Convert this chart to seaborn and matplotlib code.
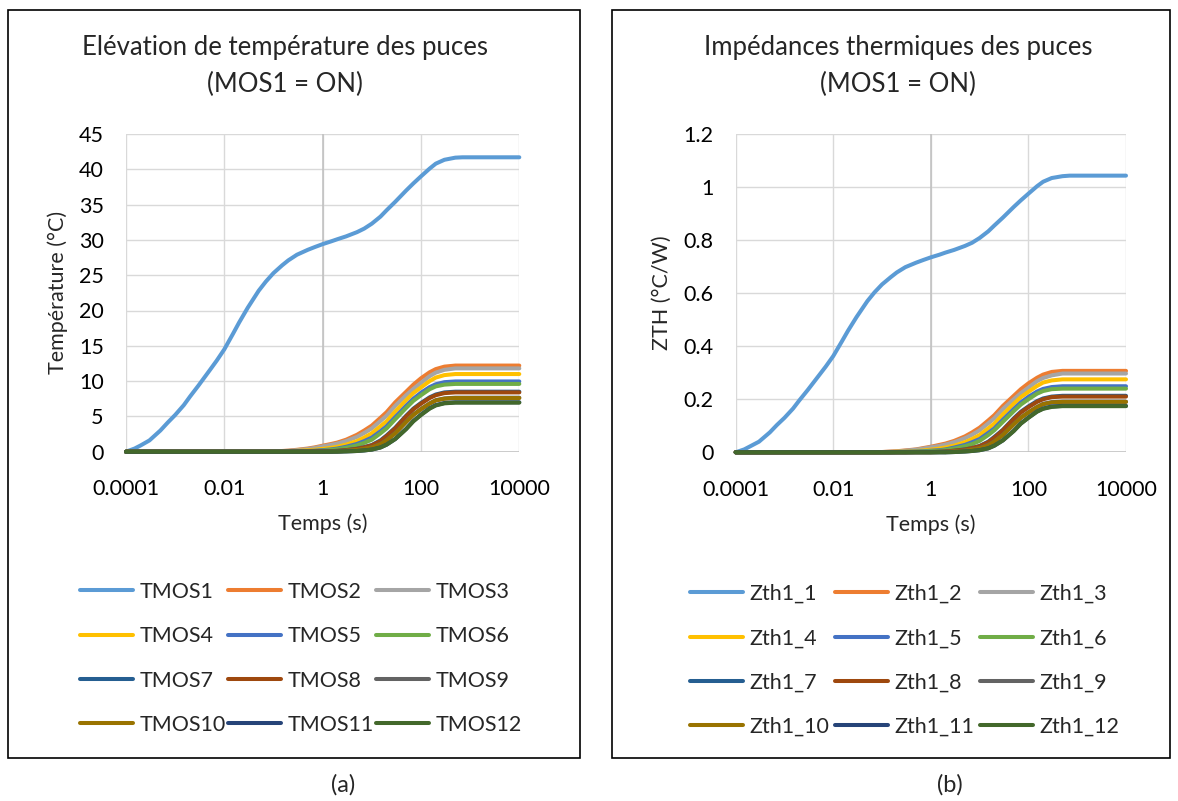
import matplotlib
matplotlib.use("Agg")
import matplotlib.pyplot as plt
import pandas as pd
import seaborn as sns
from matplotlib.patches import Rectangle
from matplotlib.ticker import FixedLocator, FixedFormatter, NullLocator

# ---------------- data ----------------
# time axis for the first (fast-rising) chip
time_main = [1e-4, 1.5e-4, 2e-4, 3e-4, 5e-4, 7e-4, 1e-3, 1.5e-3, 2e-3, 3e-3, 5e-3, 7e-3,
             1e-2, 1.5e-2, 2e-2, 3e-2, 5e-2, 7e-2, 0.1, 0.15, 0.2, 0.3, 0.5, 0.7,
             1, 1.5, 2, 3, 5, 7, 10, 15, 20, 30, 50, 70, 100, 150, 200, 300, 500, 700,
             1000, 2000, 5000, 10000]
# time axis for the neighbouring chips (flat at zero before 0.07 s)
time_low = [1e-4, 0.07, 0.1, 0.15, 0.2, 0.3, 0.5, 0.7, 1, 1.5, 2, 3, 5, 7, 10, 15, 20, 30,
            50, 70, 100, 150, 200, 300, 500, 700, 1000, 2000, 5000, 10000]

tmos1 = [0, 0.45, 0.9, 1.6, 3.0, 4.1, 5.2, 6.6, 7.8, 9.4, 11.5, 12.9, 14.5, 16.7, 18.3,
         20.4, 22.8, 24.1, 25.3, 26.4, 27.1, 27.9, 28.6, 29.0, 29.4, 29.8, 30.1, 30.5,
         31.1, 31.6, 32.3, 33.3, 34.2, 35.4, 37.0, 38.0, 39.0, 40.1, 40.8, 41.35, 41.65,
         41.7, 41.7, 41.7, 41.7, 41.7]
tmos2 = [0, 0, 0.05, 0.1, 0.15, 0.27, 0.45, 0.62, 0.85, 1.1, 1.3, 1.7, 2.4, 3.0, 3.7, 4.8,
         5.6, 7.0, 8.5, 9.5, 10.4, 11.25, 11.7, 12.05, 12.2, 12.2, 12.2, 12.2, 12.2, 12.2]
tmos3 = [0, 0, 0.04, 0.08, 0.12, 0.22, 0.38, 0.54, 0.75, 0.97, 1.15, 1.5, 2.1, 2.65, 3.3,
         4.35, 5.1, 6.5, 8.0, 8.9, 9.75, 10.7, 11.2, 11.6, 11.8, 11.8, 11.8, 11.8, 11.8, 11.8]
tmos4 = [0, 0, 0.02, 0.04, 0.06, 0.12, 0.2, 0.29, 0.4, 0.55, 0.7, 1.0, 1.5, 2.0, 2.6, 3.6,
         4.3, 5.7, 7.3, 8.3, 9.1, 10.0, 10.5, 10.85, 11.0, 11.0, 11.0, 11.0, 11.0, 11.0]
tmos5 = [0, 0, 0, 0.01, 0.03, 0.06, 0.1, 0.15, 0.22, 0.33, 0.45, 0.7, 1.1, 1.5, 2.0, 2.9,
         3.6, 4.9, 6.5, 7.5, 8.35, 9.15, 9.55, 9.85, 9.95, 9.95, 9.95, 9.95, 9.95, 9.95]
tmos6 = [0, 0, 0, 0.01, 0.02, 0.04, 0.07, 0.1, 0.15, 0.25, 0.35, 0.55, 0.9, 1.25, 1.7, 2.6,
         3.3, 4.6, 6.2, 7.2, 8.0, 8.85, 9.25, 9.5, 9.6, 9.6, 9.6, 9.6, 9.6, 9.6]
tmos7 = [0, 0, 0, 0, 0, 0.01, 0.02, 0.03, 0.05, 0.08, 0.12, 0.22, 0.42, 0.65, 0.95, 1.6,
         2.3, 3.4, 5.1, 6.1, 6.9, 7.7, 8.1, 8.4, 8.5, 8.5, 8.5, 8.5, 8.5, 8.5]
tmos8 = [0, 0, 0, 0, 0, 0.01, 0.02, 0.03, 0.05, 0.08, 0.12, 0.22, 0.4, 0.62, 0.9, 1.5,
         2.2, 3.3, 5.0, 6.0, 6.8, 7.6, 8.0, 8.3, 8.4, 8.4, 8.4, 8.4, 8.4, 8.4]
tmos9 = [0, 0, 0, 0, 0, 0, 0, 0, 0.01, 0.03, 0.05, 0.12, 0.26, 0.42, 0.62, 1.1,
         1.65, 2.65, 4.25, 5.25, 6.05, 6.85, 7.3, 7.55, 7.65, 7.65, 7.65, 7.65, 7.65, 7.65]
tmos10 = [0, 0, 0, 0, 0, 0, 0, 0, 0.01, 0.03, 0.05, 0.12, 0.25, 0.4, 0.6, 1.05,
          1.6, 2.6, 4.2, 5.2, 6.0, 6.8, 7.25, 7.5, 7.6, 7.6, 7.6, 7.6, 7.6, 7.6]
tmos11 = [0, 0, 0, 0, 0, 0, 0, 0, 0, 0, 0.01, 0.04, 0.1, 0.18, 0.3, 0.6,
          1.0, 1.8, 3.25, 4.35, 5.25, 6.15, 6.6, 6.9, 7.0, 7.0, 7.0, 7.0, 7.0, 7.0]
tmos12 = [0, 0, 0, 0, 0, 0, 0, 0, 0, 0, 0.01, 0.04, 0.1, 0.18, 0.3, 0.6,
          1.0, 1.8, 3.2, 4.3, 5.2, 6.1, 6.55, 6.85, 6.95, 6.95, 6.95, 6.95, 6.95, 6.95]

zth1_1 = [0, 0.011, 0.023, 0.04, 0.075, 0.103, 0.13, 0.165, 0.195, 0.235, 0.288, 0.323,
          0.363, 0.418, 0.458, 0.51, 0.57, 0.603, 0.633, 0.66, 0.678, 0.698, 0.715, 0.725,
          0.735, 0.745, 0.753, 0.763, 0.778, 0.79, 0.808, 0.833, 0.855, 0.885, 0.925, 0.95,
          0.975, 1.003, 1.02, 1.034, 1.041, 1.043, 1.043, 1.043, 1.043, 1.043]
zth1_2 = [0, 0, 0.001, 0.003, 0.004, 0.007, 0.011, 0.016, 0.021, 0.028, 0.033, 0.043, 0.06,
          0.075, 0.093, 0.12, 0.14, 0.175, 0.213, 0.238, 0.26, 0.281, 0.293, 0.303, 0.307,
          0.307, 0.307, 0.307, 0.307, 0.307]
zth1_3 = [0, 0, 0.001, 0.002, 0.003, 0.006, 0.01, 0.014, 0.019, 0.024, 0.029, 0.038, 0.053,
          0.066, 0.083, 0.109, 0.128, 0.163, 0.2, 0.223, 0.244, 0.268, 0.28, 0.29, 0.297,
          0.297, 0.297, 0.297, 0.297, 0.297]
zth1_4 = [0, 0, 0.001, 0.001, 0.002, 0.003, 0.005, 0.007, 0.01, 0.014, 0.018, 0.025, 0.038,
          0.05, 0.065, 0.09, 0.108, 0.143, 0.183, 0.208, 0.228, 0.25, 0.263, 0.271, 0.275,
          0.275, 0.275, 0.275, 0.275, 0.275]
zth1_5 = [0, 0, 0, 0, 0.001, 0.002, 0.003, 0.004, 0.006, 0.008, 0.011, 0.018, 0.028,
          0.038, 0.05, 0.073, 0.09, 0.123, 0.163, 0.188, 0.209, 0.229, 0.239, 0.246, 0.249,
          0.249, 0.249, 0.249, 0.249, 0.249]
zth1_6 = [0, 0, 0, 0, 0.001, 0.001, 0.002, 0.003, 0.004, 0.006, 0.009, 0.014, 0.023,
          0.031, 0.043, 0.065, 0.083, 0.115, 0.155, 0.18, 0.2, 0.221, 0.231, 0.238, 0.24,
          0.24, 0.24, 0.24, 0.24, 0.24]
zth1_7 = [0, 0, 0, 0, 0, 0, 0.001, 0.001, 0.001, 0.002, 0.003, 0.006, 0.011, 0.016,
          0.024, 0.04, 0.058, 0.085, 0.128, 0.153, 0.173, 0.193, 0.203, 0.21, 0.213,
          0.213, 0.213, 0.213, 0.213, 0.213]
zth1_8 = [0, 0, 0, 0, 0, 0, 0.001, 0.001, 0.001, 0.002, 0.003, 0.006, 0.01, 0.016,
          0.023, 0.038, 0.055, 0.083, 0.125, 0.15, 0.17, 0.19, 0.2, 0.208, 0.21,
          0.21, 0.21, 0.21, 0.21, 0.21]
zth1_9 = [0, 0, 0, 0, 0, 0, 0, 0, 0, 0.001, 0.001, 0.003, 0.007, 0.011, 0.016, 0.028,
          0.041, 0.066, 0.106, 0.131, 0.151, 0.171, 0.183, 0.189, 0.191, 0.191, 0.191,
          0.191, 0.191, 0.191]
zth1_10 = [0, 0, 0, 0, 0, 0, 0, 0, 0, 0.001, 0.001, 0.003, 0.006, 0.01, 0.015, 0.026,
           0.04, 0.065, 0.105, 0.13, 0.15, 0.17, 0.181, 0.188, 0.19, 0.19, 0.19, 0.19,
           0.19, 0.19]
zth1_11 = [0, 0, 0, 0, 0, 0, 0, 0, 0, 0, 0, 0.001, 0.003, 0.005, 0.008, 0.015, 0.025,
           0.045, 0.081, 0.109, 0.131, 0.154, 0.165, 0.173, 0.175, 0.175, 0.175, 0.175,
           0.175, 0.175]
zth1_12 = [0, 0, 0, 0, 0, 0, 0, 0, 0, 0, 0, 0.001, 0.003, 0.005, 0.008, 0.015, 0.025,
           0.045, 0.08, 0.108, 0.13, 0.153, 0.164, 0.171, 0.174, 0.174, 0.174, 0.174,
           0.174, 0.174]

tmos_names = ["TMOS1", "TMOS2", "TMOS3", "TMOS4", "TMOS5", "TMOS6",
              "TMOS7", "TMOS8", "TMOS9", "TMOS10", "TMOS11", "TMOS12"]
zth_names = ["Zth1_1", "Zth1_2", "Zth1_3", "Zth1_4", "Zth1_5", "Zth1_6",
             "Zth1_7", "Zth1_8", "Zth1_9", "Zth1_10", "Zth1_11", "Zth1_12"]
tmos_series = [tmos1, tmos2, tmos3, tmos4, tmos5, tmos6, tmos7, tmos8, tmos9, tmos10,
               tmos11, tmos12]
zth_series = [zth1_1, zth1_2, zth1_3, zth1_4, zth1_5, zth1_6, zth1_7, zth1_8, zth1_9,
              zth1_10, zth1_11, zth1_12]

colors = ["#5B9BD5", "#ED7D31", "#A5A5A5", "#FFC000", "#4472C4", "#70AD47",
          "#255E91", "#9E480E", "#636363", "#997300", "#264478", "#43682B"]

x_ticks = [1e-4, 1e-2, 1, 1e2, 1e4]
x_tick_labels = ["0.0001", "0.01", "1", "100", "10000"]
y_ticks_left = [0, 5, 10, 15, 20, 25, 30, 35, 40, 45]
y_tick_labels_left = ["0", "5", "10", "15", "20", "25", "30", "35", "40", "45"]
y_ticks_right = [0, 0.2, 0.4, 0.6, 0.8, 1.0, 1.2]
y_tick_labels_right = ["0", "0.2", "0.4", "0.6", "0.8", "1", "1.2"]

title_left = ["Elévation de température des puces", "(MOS1 = ON)"]
title_right = ["Impédances thermiques des puces", "(MOS1 = ON)"]

# ---------------- figure ----------------
sns.set_theme(style="white")
plt.rcParams['font.family'] = ['Lato', 'DejaVu Sans']

W, H = 1178, 801
fig = plt.figure(figsize=(W / 100, H / 100), dpi=100)
fig.patch.set_facecolor("white")


def fx(px):
    return px / W


def fy(py):
    return 1 - py / H


def long_df(names, series):
    rows = []
    for i, (n, s) in enumerate(zip(names, series)):
        tgrid = time_main if i == 0 else time_low
        for t, v in zip(tgrid, s):
            rows.append((t, v, n))
    return pd.DataFrame(rows, columns=["time", "value", "series"])


TICK_FS = 15.5
LEG_FS = 15.5
TITLE_FS = 18.5


def panel(rect, names, series, ylim, yticks, ylabels, ylabel, legend_xy, colsp,
          title, title_cx):
    ax = fig.add_axes(rect)
    ax.set_xscale("log")
    df = long_df(names, series)
    sns.lineplot(data=df, x="time", y="value", hue="series", hue_order=names,
                 palette=colors, linewidth=2.9, ax=ax, legend=False,
                 estimator=None, sort=False)
    handles = list(ax.get_lines())[:12]
    for ln in handles:
        ln.set_clip_on(False)
        ln.set_solid_capstyle("round")
        ln.set_solid_joinstyle("round")
        ln.set_zorder(3)
    ax.set_xlim(1e-4, 1e4)
    ax.set_ylim(*ylim)
    ax.xaxis.set_major_locator(FixedLocator(x_ticks))
    ax.xaxis.set_major_formatter(FixedFormatter(x_tick_labels))
    ax.xaxis.set_minor_locator(NullLocator())
    ax.yaxis.set_major_locator(FixedLocator(yticks))
    ax.yaxis.set_major_formatter(FixedFormatter(ylabels))
    ax.grid(True, color="#D9D9D9", linewidth=1.0)
    ax.set_axisbelow(True)
    for sp in ax.spines.values():
        sp.set_visible(False)
    ax.axvline(1, color="#BFBFBF", linewidth=1.1, zorder=1)
    ax.axhline(0, color="#BFBFBF", linewidth=1.1, zorder=1)
    ax.tick_params(axis="both", length=0, labelsize=TICK_FS, colors="black")
    ax.tick_params(axis="x", pad=20)
    ax.tick_params(axis="y", pad=16)
    ax.set_xlabel("Temps (s)", fontsize=TICK_FS, labelpad=10)
    ax.set_ylabel(ylabel, fontsize=TICK_FS, labelpad=8)

    order = [0, 3, 6, 9, 1, 4, 7, 10, 2, 5, 8, 11]
    fig.legend([handles[i] for i in order], [names[i] for i in order],
               loc="upper left", bbox_to_anchor=(fx(legend_xy[0]), fy(legend_xy[1])),
               ncol=3, frameon=False, fontsize=LEG_FS, borderpad=0, borderaxespad=0,
               handlelength=2.45, handletextpad=0.3, columnspacing=colsp,
               labelspacing=1.13)
    fig.text(fx(title_cx), fy(47), title[0], ha="center", va="center", fontsize=TITLE_FS)
    fig.text(fx(title_cx), fy(84), title[1], ha="center", va="center", fontsize=TITLE_FS)
    return ax


axL = panel([fx(126), fy(451.7), fx(519.3) - fx(126), fy(134) - fy(451.7)],
            tmos_names, tmos_series, (0, 45), y_ticks_left, y_tick_labels_left,
            "Température (°C)", (80, 582), 0.12, title_left, 285)
axR = panel([fx(735.7), fy(452.3), fx(1126) - fx(735.7), fy(134) - fy(452.3)],
            zth_names, zth_series, (0, 1.2), y_ticks_right, y_tick_labels_right,
            "ZTH (°C/W)", (690, 584), 0.28, title_right, 898)

# panel frames
for x0, x1 in [(8, 580), (612, 1170)]:
    fig.add_artist(Rectangle((fx(x0), fy(758)), fx(x1) - fx(x0), fy(10) - fy(758),
                             transform=fig.transFigure, fill=False,
                             edgecolor="black", linewidth=1.2))

fig.text(fx(343), fy(785), "(a)", ha="center", va="center", fontsize=17)
fig.text(fx(950), fy(785), "(b)", ha="center", va="center", fontsize=17)

fig.savefig("out.png", dpi=100, facecolor="white")
